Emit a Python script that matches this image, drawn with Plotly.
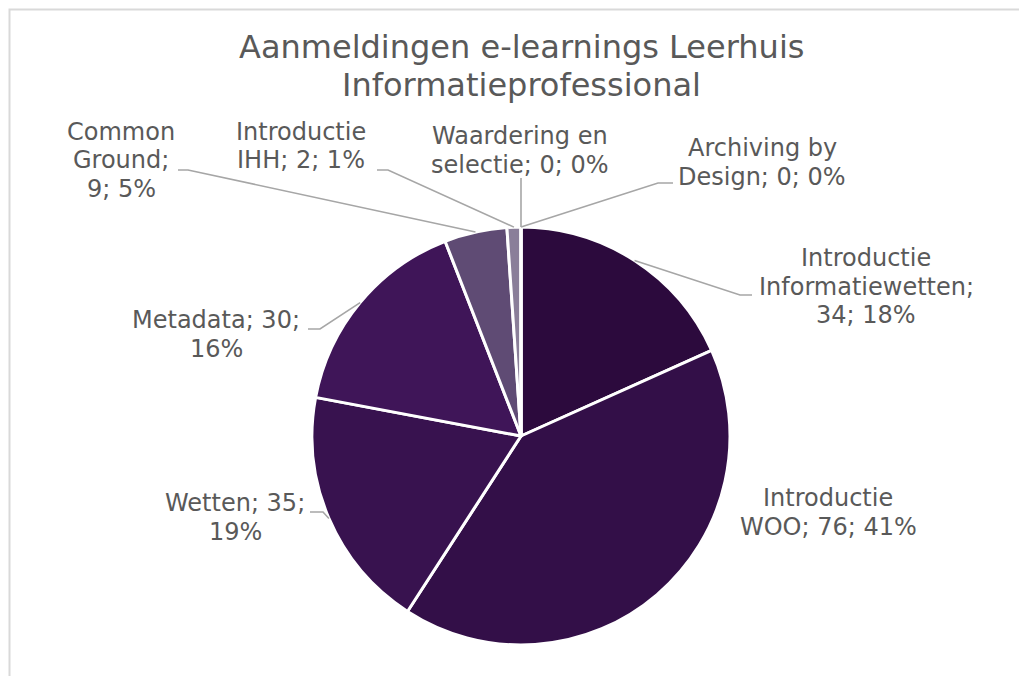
import math
import plotly.graph_objects as go

# ---- data ----
categories = [
    "Introductie Informatiewetten",
    "Introductie WOO",
    "Wetten",
    "Metadata",
    "Common Ground",
    "Introductie IHH",
    "Waardering en selectie",
    "Archiving by Design",
]
values = [34, 76, 35, 30, 9, 2, 0, 0]
label_lines = [
    ["Introductie", "Informatiewetten;", "34; 18%"],
    ["Introductie", "WOO; 76; 41%"],
    ["Wetten; 35;", "19%"],
    ["Metadata; 30;", "16%"],
    ["Common", "Ground;", "9; 5%"],
    ["Introductie", "IHH; 2; 1%"],
    ["Waardering en", "selectie; 0; 0%"],
    ["Archiving by", "Design; 0; 0%"],
]
colors = ["#2c0a3d", "#330f48", "#38124f", "#3f1558", "#5f4b74", "#8a7e99", "#b0a8bc", "#c8c2d2"]
title_lines = ["Aanmeldingen e-learnings Leerhuis", "Informatieprofessional"]

# ---- layout constants (pixels of the target picture) ----
OFF = 8  # page body margin
W, H = 1027 - 2 * OFF, 684 - 2 * OFF  # figure fits the window without scrollbars
CX, CY, R = 521, 436, 209
LINE_SP = 28.7
# label: centre x, cap-middle y of first line
label_pos = [(866, 258), (828, 498), (235, 503), (216, 320), (121, 131.5), (301, 131.5), (520, 136), (762, 148)]
# leader line: elbow point and end point (None = no line)
leader = [
    ((740, 295), (752, 295)),
    None,
    ((323, 512), (310, 512)),
    ((320, 329), (308, 329)),
    ((188, 170), (178, 170)),
    ((388, 170), (377, 170)),
    ((521, 178), (521, 178)),
    ((658, 183), (673, 183)),
]


def px(x):
    return (x - OFF) / W


def py(y):
    return 1 - (y - OFF) / H


fig = go.Figure()
fig.add_trace(go.Pie(
    labels=categories,
    values=values,
    sort=False,
    direction="clockwise",
    rotation=0,
    textinfo="none",
    hoverinfo="label+value+percent",
    marker=dict(colors=colors, line=dict(color="white", width=3)),
    domain=dict(x=[px(CX - R), px(CX + R)], y=[py(CY + R), py(CY - R)]),
    showlegend=False,
))

total = sum(values)
shapes = []
annotations = []
cum = 0
for i, v in enumerate(values):
    mid = (cum + v / 2) / total * 2 * math.pi
    cum += v
    ex = CX + R * math.sin(mid)
    ey = CY - R * math.cos(mid)
    if leader[i] is not None:
        (bx, by), (tx, ty) = leader[i]
        path = f"M {px(ex)} {py(ey)} L {px(bx)} {py(by)} L {px(tx)} {py(ty)}"
        shapes.append(dict(type="path", xref="paper", yref="paper", path=path,
                           line=dict(color="#a6a6a6", width=1.6)))
    lx, ly = label_pos[i]
    for k, line in enumerate(label_lines[i]):
        annotations.append(dict(x=px(lx), y=py(ly + k * LINE_SP), xref="paper", yref="paper",
                                text=line, showarrow=False, align="center",
                                xanchor="center", yanchor="middle",
                                font=dict(family="DejaVu Sans", size=24, color="#595959")))

for k, line in enumerate(title_lines):
    annotations.append(dict(x=px(521), y=py(46.5 + k * 38), xref="paper", yref="paper",
                            text=line, showarrow=False, align="center",
                            xanchor="center", yanchor="middle",
                            font=dict(family="DejaVu Sans", size=32, color="#595959")))

# chart frame (light grey border, only left and top edges visible)
frame_path = f"M {px(9.5)} {py(684)} L {px(9.5)} {py(9.5)} L {px(1027)} {py(9.5)}"
shapes.append(dict(type="path", xref="paper", yref="paper", path=frame_path,
                   line=dict(color="#d9d9d9", width=2)))

fig.update_layout(
    width=W, height=H,
    margin=dict(l=0, r=0, t=0, b=0),
    paper_bgcolor="white",
    plot_bgcolor="white",
    shapes=shapes,
    annotations=annotations,
)

fig.write_html("out.html")
